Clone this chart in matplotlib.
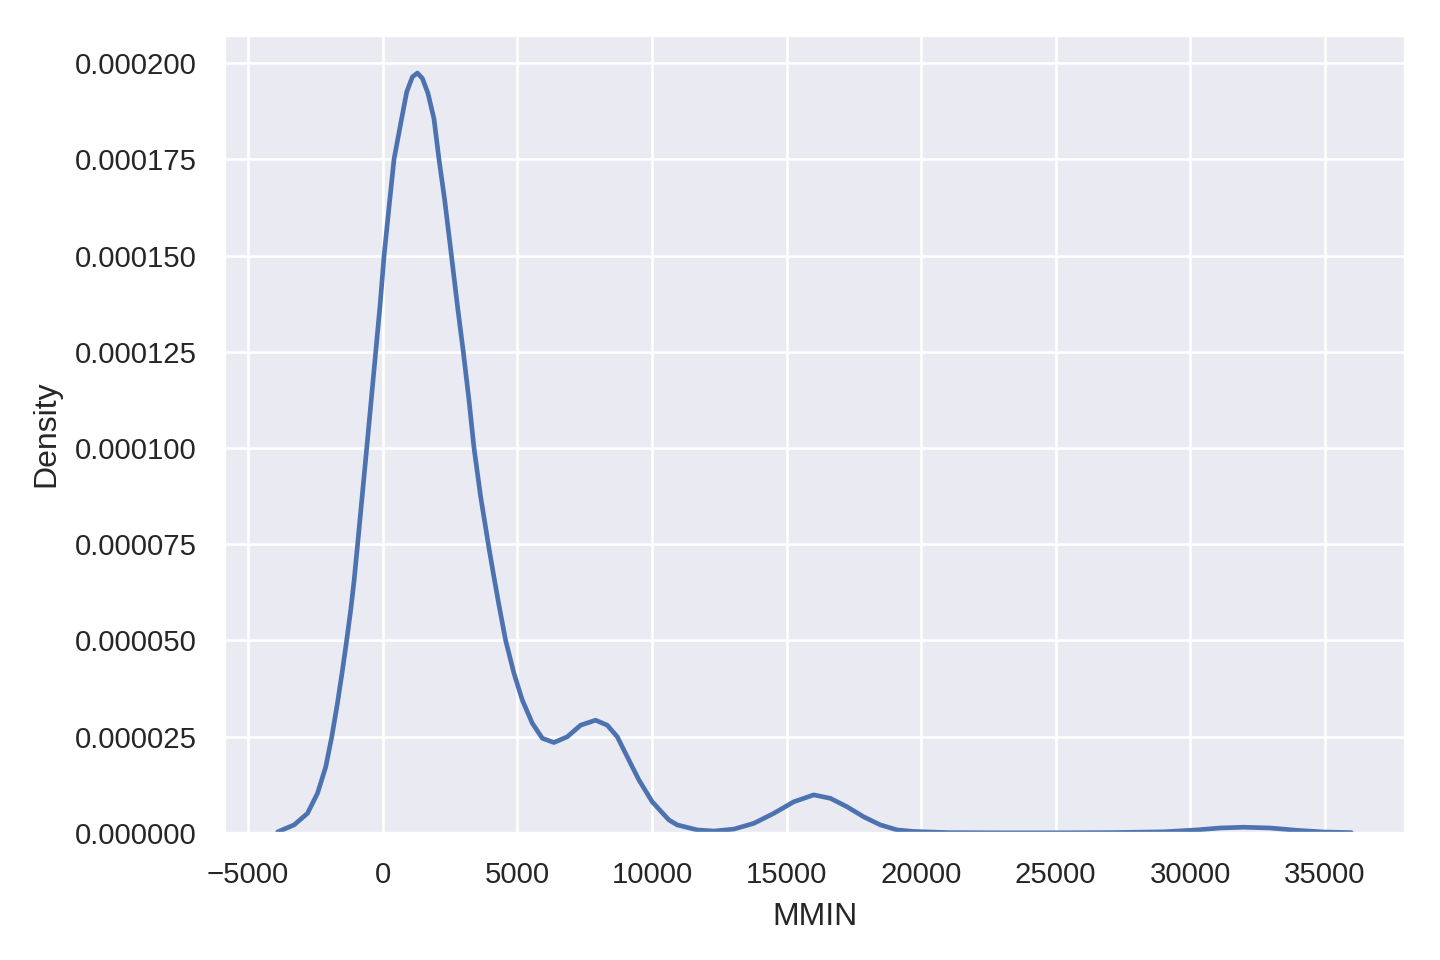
import matplotlib
matplotlib.use("Agg")
import matplotlib.pyplot as plt
import numpy as np
import seaborn as sns

# KDE curve of MMIN
mmin = [
    -3900, -3293, -2795, -2424, -2116, -1893, -1682, -1496, -1340, -1188,
    -1065, -940, -594, -260, -100, 48, 234, 419, 668, 891,
    1102, 1288, 1474, 1682, 1904, 2090, 2301, 2498, 2795, 2996,
    3203, 3389, 3638, 3946, 4131, 4317, 4566, 4874, 5186, 5557,
    5928, 6359, 6856, 7350, 7907, 8341, 8712, 9083, 9514, 10011,
    10628, 10939, 11682, 12298, 13040, 13783, 14525, 15268, 16010, 16630,
    17250, 17866, 18486, 19106, 19722, 21000, 23000, 25000, 27000, 29002,
    30242, 31106, 31972, 32963, 33953, 34943, 35980,
]
density_e6 = [
    0.3, 2.1, 5.1, 10.3, 17.2, 25.0, 33.7, 42.3, 50.0, 58.0,
    65.5, 74.5, 100.0, 125.0, 137.0, 149.8, 162.6, 175.0, 184.3, 192.5,
    196.4, 197.4, 196.0, 192.1, 185.5, 175.0, 164.4, 153.1, 135.8, 124.8,
    112.5, 100.1, 87.3, 74.0, 66.5, 59.2, 50.0, 41.5, 34.5, 28.5,
    24.6, 23.5, 25.0, 28.0, 29.3, 28.0, 25.0, 19.8, 13.8, 8.1,
    3.4, 2.1, 0.8, 0.5, 1.0, 2.5, 5.1, 8.1, 9.9, 9.0,
    6.8, 4.2, 2.1, 0.8, 0.4, 0.1, 0.05, 0.05, 0.1, 0.3,
    0.8, 1.3, 1.5, 1.3, 0.7, 0.26, 0.1,
]

sns.set_theme(context="paper", style="darkgrid")
plt.rcParams["font.family"] = ["Liberation Sans", "DejaVu Sans"]

fig, ax = plt.subplots(figsize=(6, 4), dpi=240)
fig.subplots_adjust(left=0.1556, right=0.9757, bottom=0.1323, top=0.9635)

x = np.array(mmin, dtype=float)
y = np.array(density_e6) * 1e-6
ax.plot(x, y, color="#4C72B0", lw=1.4)
ax.set_ylim(bottom=0)

ax.set_xlabel("MMIN")
ax.set_ylabel("Density")

fig.savefig("out.png", dpi=240)
